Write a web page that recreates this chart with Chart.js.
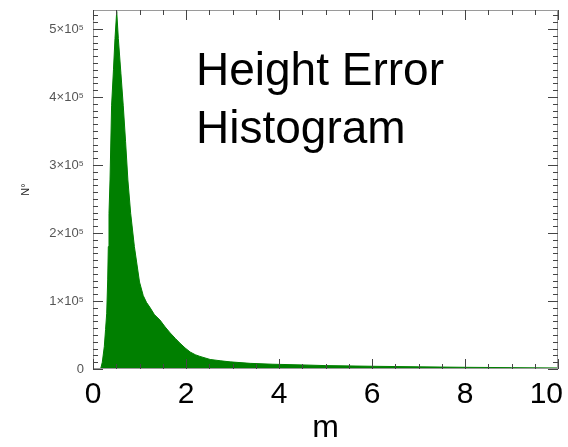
<!DOCTYPE html>
<html>
<head>
<meta charset="utf-8">
<script src="https://cdn.jsdelivr.net/npm/chart.js@4.4.0/dist/chart.umd.min.js"></script>
<style>
  html, body { margin: 0; padding: 0; background: #fff; }
  #wrap { width: 568px; height: 447px; }
</style>
</head>
<body>
<div id="wrap"><canvas id="c" width="568" height="447"></canvas></div>
<script>
// ---- data ----
const binM = [0.00, 0.14, 0.17, 0.20, 0.243, 0.27, 0.295, 0.316, 0.329, 0.344, 0.366, 0.40, 0.44, 0.473, 0.51,
  0.545, 0.60, 0.65, 0.70, 0.75, 0.81, 0.89, 1.00, 1.08, 1.15, 1.23, 1.32, 1.44, 1.55, 1.66, 1.77, 1.87,
  1.98, 2.09, 2.20, 2.30, 2.52, 2.75, 2.95, 3.38, 3.87, 4.50, 5.00, 6.00, 7.00, 8.00, 9.00, 10.00];
const counts = [0, 0, 1500, 10000, 33000, 58000, 82000, 131000, 180000, 229000, 278000, 388000, 440000, 486000, 526000,
  486000, 435000, 388000, 335000, 278000, 229000, 180000, 128000, 108000, 98000, 90000, 80000, 72000, 62000, 53000, 45000, 38000,
  31000, 25000, 21000, 18500, 14000, 12000, 10500, 8300, 7000, 6000, 5000, 4000, 3200, 2500, 2000, 1500];
const xTickValues = [0, 2, 4, 6, 8, 10];
const xTickLabels = ['0', '2', '4', '6', '8', '10'];
const yTickValues = [0, 100000, 200000, 300000, 400000, 500000];
const yTickLabels = ['0', '1×10⁵', '2×10⁵', '3×10⁵', '4×10⁵', '5×10⁵'];
const titleLines = ['Height Error', 'Histogram'];
const xTitle = 'm';
const yTitle = 'N°';

const FONT = "'Liberation Sans', Arial, 'DejaVu Sans', sans-serif";
const points = binM.map((m, i) => ({ x: m, y: counts[i] }));

const overlay = {
  id: 'overlay',
  afterDatasetsDraw(chart) {
    const { ctx, chartArea: a, scales: { x, y } } = chart;
    ctx.save();
    // frame
    ctx.strokeStyle = '#9a9a9a';
    ctx.lineWidth = 1;
    ctx.strokeRect(a.left + 0.5, a.top + 0.5, a.right - a.left - 1, a.bottom - a.top - 1);
    // x ticks (inward, bottom and top)
    ctx.strokeStyle = '#444';
    ctx.beginPath();
    for (let k = 0; k <= 20; k++) {
      const v = k * 0.5;
      const px = Math.round(x.getPixelForValue(v)) + 0.5;
      const len = (k % 4 === 0) ? 10 : 5;
      ctx.moveTo(px, a.bottom); ctx.lineTo(px, a.bottom - len);
      ctx.moveTo(px, a.top); ctx.lineTo(px, a.top + len);
    }
    // y ticks (inward, left and right)
    for (let k = 0; k <= 52; k++) {
      const v = k * 10000;
      const py = Math.round(y.getPixelForValue(v)) + 0.5;
      const len = (k % 10 === 0) ? 10 : 5;
      ctx.moveTo(a.left, py); ctx.lineTo(a.left + len, py);
      ctx.moveTo(a.right, py); ctx.lineTo(a.right - len, py);
    }
    ctx.stroke();
    // x tick labels
    ctx.fillStyle = '#000';
    ctx.font = '30px ' + FONT;
    ctx.textAlign = 'center';
    ctx.textBaseline = 'alphabetic';
    xTickValues.forEach((v, i) => {
      const t = xTickLabels[i];
      const w = ctx.measureText(t).width;
      let cx = x.getPixelForValue(v);
      if (cx + w / 2 > chart.width - 5) cx = chart.width - 5 - w / 2;
      ctx.fillText(t, cx, 403);
    });
    // in-plot title
    ctx.font = '46px ' + FONT;
    ctx.textAlign = 'left';
    ctx.fillText(titleLines[0], 196, 85);
    ctx.fillText(titleLines[1], 196, 143);
    ctx.restore();
  }
};

new Chart(document.getElementById('c'), {
  type: 'line',
  data: {
    datasets: [{
      data: points,
      borderColor: '#007f00',
      backgroundColor: '#007f00',
      borderWidth: 1,
      pointRadius: 0,
      tension: 0,
      fill: 'origin'
    }]
  },
  options: {
    responsive: false,
    animation: false,
    layout: { padding: { top: 10, right: 10, left: 0, bottom: 0 } },
    plugins: { legend: { display: false }, tooltip: { enabled: false } },
    scales: {
      x: {
        type: 'linear',
        min: 0, max: 10,
        grid: { display: false, drawTicks: false },
        border: { display: false },
        ticks: { display: false },
        afterBuildTicks: s => { s.ticks = xTickValues.map(v => ({ value: v })); },
        title: { display: true, text: xTitle, color: '#000', font: { family: FONT, size: 32 }, padding: { top: 0, bottom: 0 } },
        afterFit: s => { s.height = 78; s.paddingLeft = 0; s.paddingRight = 0; }
      },
      y: {
        min: 0, max: 528000,
        grid: { display: false, drawTicks: false },
        border: { display: false },
        afterBuildTicks: s => { s.ticks = yTickValues.map(v => ({ value: v })); },
        ticks: {
          autoSkip: false,
          padding: 9,
          color: '#555',
          font: { family: FONT, size: 13 },
          callback: (v, i) => yTickLabels[i]
        },
        title: { display: true, text: yTitle, color: '#222', font: { family: FONT, size: 11 }, padding: { top: 19, bottom: 0 } },
        afterFit: s => { s.width = 93; s.paddingTop = 0; s.paddingBottom = 0; }
      }
    }
  },
  plugins: [overlay]
});
</script>
</body>
</html>
